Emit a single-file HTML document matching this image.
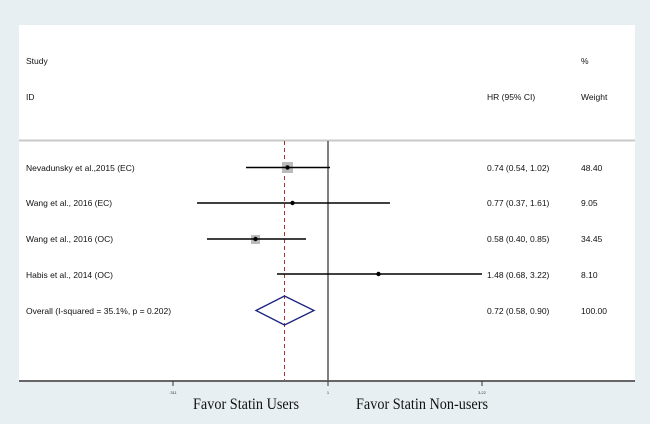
<!DOCTYPE html>
<html><head><style>
body{margin:0;background:#e8eff2;}
svg{display:block}
</style></head><body>
<svg width="650" height="424" viewBox="0 0 650 424" font-family="Liberation Sans, sans-serif">
<rect width="650" height="424" fill="#e8eff2"/>
<rect x="19" y="25" width="616" height="356" fill="#fff"/>
<line x1="19" y1="140.5" x2="635" y2="140.5" stroke="#c8c8c8" stroke-width="2"/>
<g font-size="8.5" fill="#111">
<text x="26" y="64">Study</text>
<text x="581" y="64">%</text>
<text x="26" y="100">ID</text>
<text x="487" y="100">HR (95% CI)</text>
<text x="581" y="100">Weight</text>
<text x="26" y="171">Nevadunsky et al.,2015 (EC)</text>
<text x="26" y="206">Wang et al., 2016 (EC)</text>
<text x="26" y="242">Wang et al., 2016 (OC)</text>
<text x="26" y="278">Habis et al., 2014 (OC)</text>
<text x="26" y="314">Overall  (I-squared = 35.1%, p = 0.202)</text>
<text x="487" y="171">0.74 (0.54, 1.02)</text>
<text x="487" y="206">0.77 (0.37, 1.61)</text>
<text x="487" y="242">0.58 (0.40, 0.85)</text>
<text x="487" y="278">1.48 (0.68, 3.22)</text>
<text x="487" y="314">0.72 (0.58, 0.90)</text>
<text x="581" y="171">48.40</text>
<text x="581" y="206">9.05</text>
<text x="581" y="242">34.45</text>
<text x="581" y="278">8.10</text>
<text x="581" y="314">100.00</text>
</g>
<line x1="328" y1="141" x2="328" y2="385" stroke="#000" stroke-width="1"/>
<line x1="284.5" y1="141" x2="284.5" y2="381" stroke="#b03030" stroke-width="1" stroke-dasharray="4,3"/>
<rect x="282" y="162" width="11" height="11" fill="#bbb"/>
<rect x="251" y="235" width="9" height="9" fill="#bbb"/>
<g stroke="#000" stroke-width="1.5">
<line x1="246" y1="167.5" x2="330" y2="167.5"/>
<line x1="197" y1="203" x2="390" y2="203"/>
<line x1="207" y1="239" x2="306" y2="239"/>
<line x1="277" y1="274" x2="482" y2="274"/>
</g>
<g fill="#000">
<circle cx="287.5" cy="167.5" r="2.2"/>
<circle cx="292.5" cy="203" r="2.2"/>
<circle cx="255.5" cy="239" r="2.2"/>
<circle cx="378.5" cy="274" r="2.2"/>
</g>
<polygon points="256,310.5 284.5,296 314,310.5 284.5,325" fill="none" stroke="#1a237e" stroke-width="1.3"/>
<line x1="19" y1="381" x2="635" y2="381" stroke="#666" stroke-width="2"/>
<g stroke="#333"><line x1="173" y1="381" x2="173" y2="386"/><line x1="328" y1="381" x2="328" y2="386"/><line x1="482" y1="381" x2="482" y2="386"/></g>
<g font-size="4" fill="#333" text-anchor="middle">
<text x="173" y="394">.311</text><text x="328" y="394">1</text><text x="482" y="394">3.22</text>
</g>
<g font-family="Liberation Serif, serif" font-size="16" fill="#111">
<text x="193" y="409" textLength="106" lengthAdjust="spacingAndGlyphs">Favor Statin Users</text>
<text x="356" y="409" textLength="132" lengthAdjust="spacingAndGlyphs">Favor Statin Non-users</text>
</g>
</svg>
</body></html>
